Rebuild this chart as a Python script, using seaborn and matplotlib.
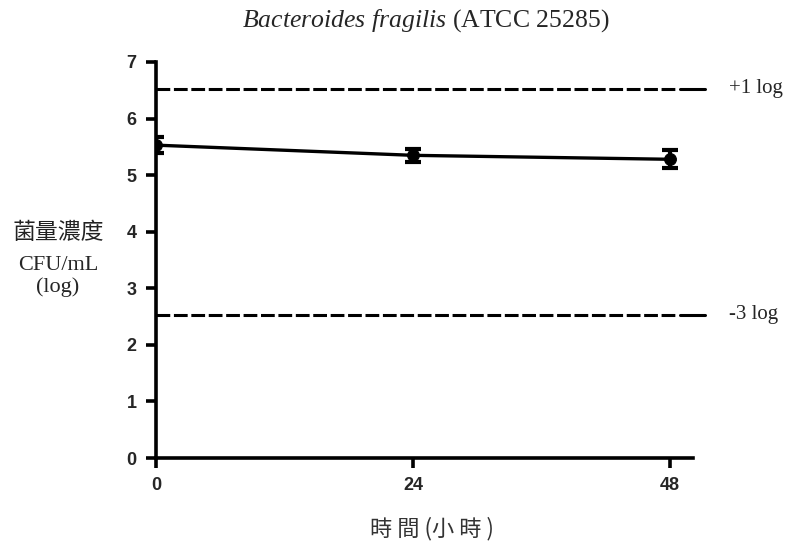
import matplotlib

matplotlib.use("Agg")
import matplotlib.pyplot as plt  # noqa: E402
import pandas as pd  # noqa: E402
import seaborn as sns  # noqa: E402

# data
hours = [0, 24, 48]
log_cfu = [5.53, 5.35, 5.28]
log_err = [0.14, 0.12, 0.16]
ref_levels = [6.53, 2.53]
ref_labels = ["+1 log", "-3 log"]
x_ticks = [0, 24, 48]
y_ticks = [0, 1, 2, 3, 4, 5, 6, 7]

sns.set_theme(style="ticks")
plt.rcParams["font.family"] = ["Liberation Serif", "Noto Sans CJK TC"]
plt.rcParams["mathtext.fontset"] = "custom"
plt.rcParams["mathtext.rm"] = "Liberation Serif"
plt.rcParams["mathtext.it"] = "Liberation Serif:italic"

df = pd.DataFrame({"hours": hours, "log_cfu": log_cfu})

fig = plt.figure(figsize=(7.89, 5.48), dpi=100)
ax = fig.add_axes([0.1977, 0.1642, 0.6803, 0.7227])

sns.lineplot(data=df, x="hours", y="log_cfu", ax=ax, color="black",
             linewidth=2.4, marker="o", markersize=8.5, markeredgecolor="black")
ax.errorbar(hours, log_cfu, yerr=log_err, fmt="none", ecolor="black",
            elinewidth=3, capsize=5.5, capthick=3)

for lvl, lab in zip(ref_levels, ref_labels):
    ax.plot([0, 48.4], [lvl, lvl], color="black", linewidth=2.2,
            linestyle=(0, (4.5, 1.2)), clip_on=False)
    ax.plot([48.95, 51.25], [lvl, lvl], color="black", linewidth=2.2,
            clip_on=False)
    ax.text(53.5, lvl, lab, fontsize=15, va="center", ha="left")

ax.set_xlim(0, 50.1)
ax.set_ylim(0, 7)
ax.set_xticks(x_ticks)
ax.set_yticks(y_ticks)
for t in ax.get_xticklabels() + ax.get_yticklabels():
    t.set_fontfamily("Liberation Sans")
    t.set_fontweight("bold")
    t.set_fontsize(13)
ax.tick_params(axis="both", direction="out", length=7, width=2.6,
               color="black", pad=7)
for side in ["top", "right"]:
    ax.spines[side].set_visible(False)
for side in ["left", "bottom"]:
    ax.spines[side].set_linewidth(2.6)
    ax.spines[side].set_color("black")
ax.set_xlabel("")
ax.set_ylabel("")

fig.text(0.54, 0.962, r"$\mathit{Bacteroides\ fragilis}$ (ATCC 25285)",
         ha="center", va="center", fontsize=18.5)
fig.text(0.0735, 0.575, "菌量濃度", ha="center", va="center", fontsize=16.5,
         family=["Noto Sans CJK TC"], color="#222222")
fig.text(0.0735, 0.516, "CFU/mL", ha="center", va="center", fontsize=16)
fig.text(0.0735, 0.476, "(log)", ha="center", va="center", fontsize=16)
fig.text(0.548, 0.036, "時 間 (小 時 )", ha="center", va="center",
         fontsize=16, family=["Noto Sans CJK TC"], color="#333333")

fig.savefig("out.png", dpi=100)
plt.close(fig)
